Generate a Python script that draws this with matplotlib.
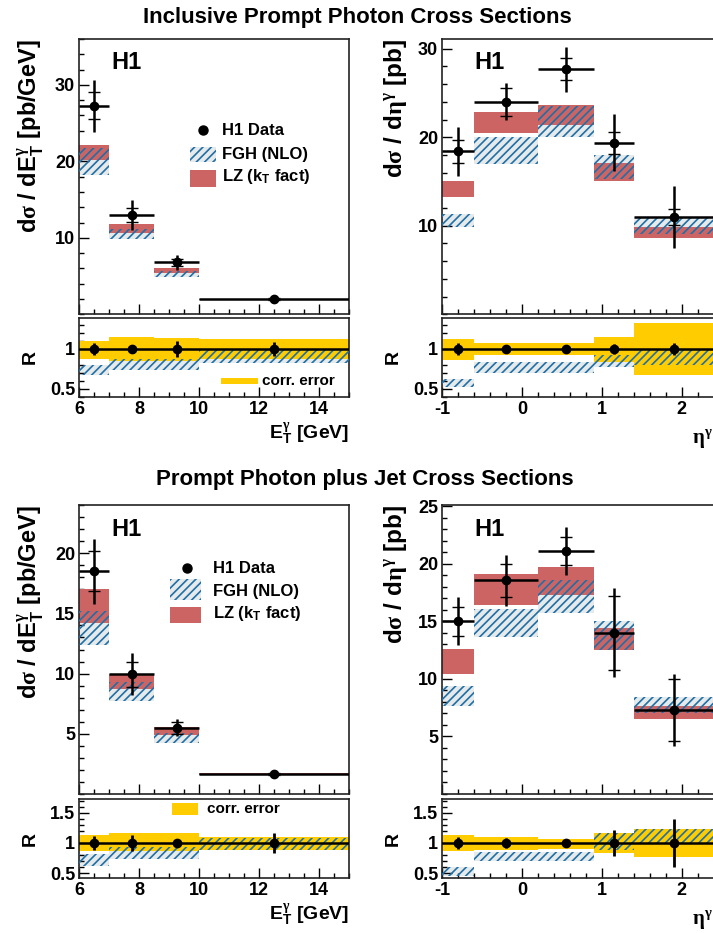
import matplotlib
matplotlib.use('Agg')
import matplotlib.pyplot as plt
import numpy as np
from matplotlib.patches import Rectangle
from matplotlib.ticker import MultipleLocator, FixedLocator, FuncFormatter

plt.rcParams['font.family'] = ['Liberation Sans', 'DejaVu Sans']
plt.rcParams['font.weight'] = 'bold'
plt.rcParams['axes.labelweight'] = 'bold'
plt.rcParams['mathtext.fontset'] = 'custom'
plt.rcParams['mathtext.rm'] = 'Liberation Sans:bold'
plt.rcParams['mathtext.it'] = 'Liberation Sans:bold'
plt.rcParams['mathtext.bf'] = 'Liberation Sans:bold'
plt.rcParams['mathtext.sf'] = 'Liberation Serif'
plt.rcParams['hatch.linewidth'] = 1.2

# ---------------- data ----------------
et_edges = [6.0, 7.0, 8.5, 10.0, 15.0]
eta_edges = [-1.0, -0.6, 0.2, 0.9, 1.4, 2.4]

# Inclusive prompt photon, dsigma/dET
inc_et_val = [27.3, 13.0, 6.8, 2.0]
inc_et_stat = [1.8, 0.9, 0.45, 0.08]
inc_et_tot = [3.4, 1.95, 1.0, 0.15]
inc_et_fgh_lo = [18.2, 9.8, 4.9, 1.85]
inc_et_fgh_hi = [21.7, 11.2, 5.7, 2.0]
inc_et_lz_lo = [20.2, 10.6, 5.4, 1.95]
inc_et_lz_hi = [22.2, 11.8, 6.0, 2.05]
inc_et_r_err = [0.07, 0.04, 0.10, 0.09]
inc_et_corr_lo = [0.875, 0.855, 0.855, 0.87]
inc_et_corr_hi = [1.10, 1.145, 1.14, 1.12]
inc_et_rfgh_lo = [0.67, 0.74, 0.74, 0.83]
inc_et_rfgh_hi = [0.80, 0.88, 0.88, 1.00]

# Inclusive prompt photon, dsigma/deta
inc_eta_val = [18.4, 24.0, 27.7, 19.4, 11.0]
inc_eta_stat = [1.3, 1.55, 1.2, 1.25, 0.95]
inc_eta_tot = [2.75, 2.1, 2.55, 3.25, 3.55]
inc_eta_fgh_lo = [9.9, 17.0, 20.0, 15.3, 9.1]
inc_eta_fgh_hi = [11.35, 20.0, 23.5, 18.0, 11.0]
inc_eta_lz_lo = [13.2, 20.5, 21.4, 15.1, 8.6]
inc_eta_lz_hi = [15.1, 22.9, 23.6, 17.1, 9.85]
inc_eta_r_err = [0.08, 0.05, 0.02, 0.06, 0.08]
inc_eta_corr_lo = [0.86, 0.93, 0.92, 0.84, 0.67]
inc_eta_corr_hi = [1.13, 1.07, 1.08, 1.15, 1.32]
inc_eta_rfgh_lo = [0.53, 0.70, 0.70, 0.78, 0.80]
inc_eta_rfgh_hi = [0.625, 0.84, 0.84, 0.93, 1.00]

# Prompt photon plus jet, dsigma/dET
jet_et_val = [18.5, 9.95, 5.5, 1.65]
jet_et_stat = [1.65, 1.05, 0.5, 0.1]
jet_et_tot = [2.7, 1.75, 0.7, 0.2]
jet_et_fgh_lo = [12.4, 7.7, 4.2, 1.55]
jet_et_fgh_hi = [15.2, 9.3, 5.1, 1.7]
jet_et_lz_lo = [14.2, 8.75, 4.9, 1.6]
jet_et_lz_hi = [17.0, 10.0, 5.58, 1.75]
jet_et_r_err = [0.11, 0.13, 0.07, 0.16]
jet_et_corr_lo = [0.86, 0.87, 0.87, 0.88]
jet_et_corr_hi = [1.13, 1.16, 1.16, 1.10]
jet_et_rfgh_lo = [0.62, 0.73, 0.73, 0.88]
jet_et_rfgh_hi = [0.82, 0.93, 0.93, 1.08]

# Prompt photon plus jet, dsigma/deta
jet_eta_val = [15.0, 18.55, 21.1, 14.0, 7.3]
jet_eta_stat = [1.25, 1.45, 1.2, 3.2, 2.7]
jet_eta_tot = [2.1, 2.25, 2.1, 3.85, 3.1]
jet_eta_fgh_lo = [7.65, 13.6, 15.7, 12.5, 7.0]
jet_eta_fgh_hi = [9.4, 16.1, 18.6, 15.05, 8.4]
jet_eta_lz_lo = [10.45, 16.4, 17.3, 12.5, 6.5]
jet_eta_lz_hi = [12.6, 19.1, 19.7, 14.4, 7.6]
jet_eta_r_err = [0.10, 0.08, 0.03, 0.22, 0.40]
jet_eta_corr_lo = [0.87, 0.88, 0.90, 0.83, 0.76]
jet_eta_corr_hi = [1.13, 1.10, 1.07, 1.17, 1.23]
jet_eta_rfgh_lo = [0.45, 0.70, 0.70, 0.88, 0.98]
jet_eta_rfgh_hi = [0.60, 0.85, 0.85, 1.16, 1.23]

# tick labels
et_xticks = [6, 8, 10, 12, 14]
eta_xticks = [-1, 0, 1, 2]
inc_et_yticks = [10, 20, 30]
inc_eta_yticks = [10, 20, 30]
jet_et_yticks = [5, 10, 15, 20]
jet_eta_yticks = [5, 10, 15, 20, 25]
r_top_yticks = [0.5, 1.0]
r_bot_yticks = [0.5, 1.0, 1.5]

titles = ['Inclusive Prompt Photon Cross Sections',
          'Prompt Photon plus Jet Cross Sections']

# ---------------- style ----------------
GRAY = '#e6eaea'
RED = '#cd6464'
BLUE = '#1f6fa8'
YELLOW = '#ffcc00'
HATCH = '////'
TICKFS = 13
fmt = FuncFormatter(lambda v, p: f'{v:g}')

W, H = 713, 933
fig = plt.figure(figsize=(W / 100, H / 100), dpi=100)


def fr(x0, y0, x1, y1):
    return [x0 / W, 1 - y1 / H, (x1 - x0) / W, (y1 - y0) / H]


def style_axis(ax, xlim, ylim, xticks, xminor, yticks, yminor, labelbottom):
    ax.set_xlim(*xlim)
    ax.set_ylim(*ylim)
    ax.xaxis.set_major_locator(FixedLocator(xticks))
    ax.xaxis.set_minor_locator(MultipleLocator(xminor))
    ax.yaxis.set_major_locator(FixedLocator(yticks))
    ax.yaxis.set_minor_locator(MultipleLocator(yminor))
    ax.xaxis.set_major_formatter(fmt)
    ax.yaxis.set_major_formatter(fmt)
    ax.tick_params(which='both', direction='in', top=False, right=False,
                   labelsize=TICKFS, width=1.0, pad=3)
    ax.tick_params(which='major', length=7)
    ax.tick_params(which='minor', length=3.5)
    ax.tick_params(axis='x', labelbottom=labelbottom)
    for s in ax.spines.values():
        s.set_linewidth(1.2)
        s.set_color('#222222')


def draw_main(ax, edges, val, stat, tot, flo, fhi, llo, lhi):
    edges = np.asarray(edges)
    left = edges[:-1]
    widths = np.diff(edges)
    centers = left + widths / 2
    flo, fhi = np.asarray(flo), np.asarray(fhi)
    llo, lhi = np.asarray(llo), np.asarray(lhi)
    ax.bar(left, fhi - flo, bottom=flo, width=widths, align='edge',
           color=GRAY, lw=0, zorder=1)
    ax.bar(left, lhi - llo, bottom=llo, width=widths, align='edge',
           color=RED, lw=0, zorder=2)
    ax.bar(left, fhi - flo, bottom=flo, width=widths, align='edge',
           facecolor='none', edgecolor=BLUE, hatch=HATCH, lw=0, zorder=3)
    ax.errorbar(centers, val, xerr=widths / 2, yerr=tot, fmt='o', color='k',
                ms=6, elinewidth=1.8, capsize=0, zorder=5)
    ax.errorbar(centers, val, yerr=stat, fmt='none', ecolor='k',
                elinewidth=0, capsize=4.5, capthick=1.0, zorder=5)


def draw_ratio(ax, edges, rerr, clo, chi, flo, fhi):
    edges = np.asarray(edges)
    left = edges[:-1]
    widths = np.diff(edges)
    centers = left + widths / 2
    flo, fhi = np.asarray(flo), np.asarray(fhi)
    clo, chi = np.asarray(clo), np.asarray(chi)
    ax.bar(left, fhi - flo, bottom=flo, width=widths, align='edge',
           color=GRAY, lw=0, zorder=1)
    ax.bar(left, chi - clo, bottom=clo, width=widths, align='edge',
           color=YELLOW, lw=0, zorder=2)
    ax.bar(left, fhi - flo, bottom=flo, width=widths, align='edge',
           facecolor='none', edgecolor=BLUE, hatch=HATCH, lw=0, zorder=3)
    ax.axhline(1.0, color='k', lw=1.8, zorder=4)
    ax.errorbar(centers, np.ones_like(centers), yerr=rerr, fmt='o', color='k',
                ms=6, elinewidth=2.0, capsize=0, zorder=5)


def legend_main(ax, xm, ym, xp0, xp1, fy0, fy1, ly0, ly1, xt, fyt, lyt):
    ax.plot([xm], [ym], 'o', color='k', ms=6.5, transform=ax.transAxes, clip_on=False)
    ax.text(xt, ym, 'H1 Data', transform=ax.transAxes, fontsize=12, va='center')
    ax.add_patch(Rectangle((xp0, fy0), xp1 - xp0, fy1 - fy0, transform=ax.transAxes,
                           facecolor=GRAY, lw=0))
    ax.add_patch(Rectangle((xp0, fy0), xp1 - xp0, fy1 - fy0, transform=ax.transAxes,
                           facecolor='none', edgecolor=BLUE, hatch=HATCH, lw=0))
    ax.text(xt, fyt, 'FGH (NLO)', transform=ax.transAxes, fontsize=12, va='center')
    ax.add_patch(Rectangle((xp0, ly0), xp1 - xp0, ly1 - ly0, transform=ax.transAxes,
                           facecolor=RED, lw=0))
    ax.text(xt, lyt, r'LZ (k$_\mathregular{T}$ fact)', transform=ax.transAxes,
            fontsize=12, va='center')


def legend_corr(ax, x0, x1, y0, y1, xt, yt):
    ax.add_patch(Rectangle((x0, y0), x1 - x0, y1 - y0, transform=ax.transAxes,
                           facecolor=YELLOW, lw=0, zorder=6))
    ax.text(xt, yt, 'corr. error', transform=ax.transAxes, fontsize=11,
            va='center', zorder=6)


ylab_et = r'd$\mathsf{\sigma}$ / dE$_\mathregular{T}^{\mathsf{\gamma}}$ [pb/GeV]'
ylab_eta = r'd$\mathsf{\sigma}$ / d$\mathsf{\eta}^{\mathsf{\gamma}}$ [pb]'
xlab_et = r'E$_\mathregular{T}^{\mathsf{\gamma}}$ [GeV]'
xlab_eta = r'$\mathsf{\eta}^{\mathsf{\gamma}}$'

rows = [
    dict(top=39, mid=314.3, rtop=317.7, rbot=397, rylim=(0.40, 1.39), ryt=r_top_yticks,
         et=(inc_et_val, inc_et_stat, inc_et_tot, inc_et_fgh_lo, inc_et_fgh_hi,
             inc_et_lz_lo, inc_et_lz_hi),
         etr=(inc_et_r_err, inc_et_corr_lo, inc_et_corr_hi, inc_et_rfgh_lo, inc_et_rfgh_hi),
         eta=(inc_eta_val, inc_eta_stat, inc_eta_tot, inc_eta_fgh_lo, inc_eta_fgh_hi,
              inc_eta_lz_lo, inc_eta_lz_hi),
         etar=(inc_eta_r_err, inc_eta_corr_lo, inc_eta_corr_hi, inc_eta_rfgh_lo,
               inc_eta_rfgh_hi),
         etylim=(0, 36), etyt=inc_et_yticks, etym=2,
         etaylim=(0, 31.1), etayt=inc_eta_yticks, etaym=2),
    dict(top=505, mid=794, rtop=799.3, rbot=878, rylim=(0.42, 1.72), ryt=r_bot_yticks,
         et=(jet_et_val, jet_et_stat, jet_et_tot, jet_et_fgh_lo, jet_et_fgh_hi,
             jet_et_lz_lo, jet_et_lz_hi),
         etr=(jet_et_r_err, jet_et_corr_lo, jet_et_corr_hi, jet_et_rfgh_lo, jet_et_rfgh_hi),
         eta=(jet_eta_val, jet_eta_stat, jet_eta_tot, jet_eta_fgh_lo, jet_eta_fgh_hi,
              jet_eta_lz_lo, jet_eta_lz_hi),
         etar=(jet_eta_r_err, jet_eta_corr_lo, jet_eta_corr_hi, jet_eta_rfgh_lo,
               jet_eta_rfgh_hi),
         etylim=(0, 24), etyt=jet_et_yticks, etym=1,
         etaylim=(0, 25.1), etayt=jet_eta_yticks, etaym=1),
]

LX0, LX1 = 79.3, 349.3
RX0, RX1 = 442.3, 713.6

for i, r in enumerate(rows):
    axm = fig.add_axes(fr(LX0, r['top'], LX1, r['mid']))
    axr = fig.add_axes(fr(LX0, r['rtop'], LX1, r['rbot']))
    draw_main(axm, et_edges, *r['et'])
    draw_ratio(axr, et_edges, *r['etr'])
    style_axis(axm, (6, 15), r['etylim'], et_xticks, 0.5, r['etyt'], r['etym'], False)
    style_axis(axr, (6, 15), r['rylim'], et_xticks, 0.5, r['ryt'], 0.1, True)

    bxm = fig.add_axes(fr(RX0, r['top'], RX1, r['mid']))
    bxr = fig.add_axes(fr(RX0, r['rtop'], RX1, r['rbot']))
    draw_main(bxm, eta_edges, *r['eta'])
    draw_ratio(bxr, eta_edges, *r['etar'])
    style_axis(bxm, (-1, 2.4), r['etaylim'], eta_xticks, 0.2, r['etayt'], r['etaym'], False)
    style_axis(bxr, (-1, 2.4), r['rylim'], eta_xticks, 0.2, r['ryt'], 0.1, True)

    for ax in (axm, bxm):
        ax.text(0.12, 0.955, 'H1', transform=ax.transAxes, fontsize=17,
                va='top', ha='left')
    axm.set_ylabel(ylab_et, fontsize=17, loc='top')
    axm.yaxis.set_label_coords(-0.122, 1.0)
    bxm.set_ylabel(ylab_eta, fontsize=17.5, loc='top')
    bxm.yaxis.set_label_coords(-0.122, 1.0)
    for ax in (axr, bxr):
        ax.set_ylabel('R', fontsize=14)
        ax.yaxis.set_label_coords(-0.15, 0.5)
    axr.set_xlabel(xlab_et, fontsize=14, loc='right')
    axr.xaxis.set_label_coords(1.0, -0.30)
    bxr.set_xlabel(xlab_eta, fontsize=15, loc='right')
    bxr.xaxis.set_label_coords(0.995, -0.38)

    if i == 0:
        legend_main(axm, 0.458, 0.669, 0.410, 0.507, 0.554, 0.609, 0.463, 0.524,
                    0.528, 0.582, 0.500)
        legend_corr(axr, 0.525, 0.662, 0.164, 0.24, 0.677, 0.20)
    else:
        legend_main(axm, 0.399, 0.781, 0.336, 0.450, 0.671, 0.744, 0.593, 0.648,
                    0.495, 0.700, 0.625)
        legend_corr(axr, 0.343, 0.440, 0.80, 0.953, 0.473, 0.876)

fig.text(357 / W, 1 - 17 / H, titles[0], ha='center', va='center', fontsize=16)
fig.text(365 / W, 1 - 480 / H, titles[1], ha='center', va='center', fontsize=16)

fig.savefig('out.png', dpi=100)
